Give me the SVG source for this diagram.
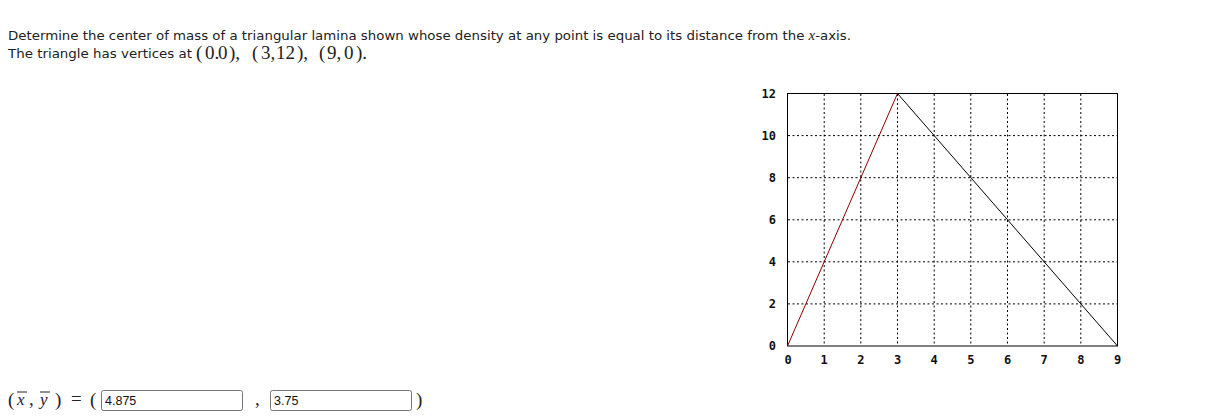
<svg xmlns="http://www.w3.org/2000/svg" width="1207" height="418" viewBox="0 0 1207 418">
<style>
.p{font-family:"DejaVu Sans",Verdana,sans-serif;font-size:12.5px;fill:#222}
.m{font-family:"Liberation Serif","DejaVu Serif",serif;font-size:19px;fill:#222}
.mi{font-family:"Liberation Serif","DejaVu Serif",serif;font-size:17px;font-style:italic;fill:#222}
.ax{font-family:"DejaVu Sans Mono",monospace;font-size:12px;font-weight:bold;fill:#111}
.g{stroke:#000;stroke-width:1;stroke-dasharray:2,2.5;fill:none}
.box{fill:#fff;stroke:#767676;stroke-width:1}
.in{font-family:"Liberation Sans",Arial,sans-serif;font-size:12.5px;fill:#111}
</style>
<rect width="1207" height="418" fill="#fff"/>
<g id="question">
<text class="p" x="8" y="40" textLength="843" lengthAdjust="spacingAndGlyphs">Determine the center of mass of a triangular lamina shown whose density at any point is equal to its distance from the <tspan font-family="Liberation Serif,serif" font-style="italic" font-size="14">x</tspan>-axis.</text>
<text class="p" x="8" y="58" textLength="184" lengthAdjust="spacingAndGlyphs">The triangle has vertices at</text>
<text class="m" y="59"><tspan x="196">(</tspan><tspan x="205">0.</tspan><tspan x="218">0</tspan><tspan x="229">),</tspan><tspan x="252">(</tspan><tspan x="261">3,</tspan><tspan x="276">12</tspan><tspan x="297">),</tspan><tspan x="319">(</tspan><tspan x="327">9,</tspan><tspan x="344">0</tspan><tspan x="356">).</tspan></text>
</g>
<g id="plot">
<g class="grid">
<path class="g" d="M824.2 94V346M860.8 94V346M897.5 94V346M934.2 94V346M970.8 94V346M1007.5 94V346M1044.2 94V346M1080.8 94V346"/>
<path class="g" d="M788 303.9H1117M788 261.8H1117M788 219.8H1117M788 177.7H1117M788 135.6H1117"/>
</g>
<rect x="787.5" y="93.5" width="330" height="252.5" fill="none" stroke="#000" stroke-width="1"/>
<g class="ax" text-anchor="end">
<text x="776" y="97.5">12</text>
<text x="776" y="139.6">10</text>
<text x="776" y="181.7">8</text>
<text x="776" y="223.8">6</text>
<text x="776" y="265.8">4</text>
<text x="776" y="307.9">2</text>
<text x="776" y="350">0</text>
</g>
<g class="ax" text-anchor="middle">
<text x="788" y="364">0</text>
<text x="824.2" y="364">1</text>
<text x="860.8" y="364">2</text>
<text x="897.5" y="364">3</text>
<text x="934.2" y="364">4</text>
<text x="970.8" y="364">5</text>
<text x="1007.5" y="364">6</text>
<text x="1044.2" y="364">7</text>
<text x="1080.8" y="364">8</text>
<text x="1117.5" y="364">9</text>
</g>
</g>
<g id="connectors">
<line x1="787.5" y1="346" x2="897.5" y2="93.5" stroke="#8b0000" stroke-width="1"/>
<line x1="897.5" y1="93.5" x2="1117.5" y2="346" stroke="#000" stroke-width="1"/>
</g>
<g id="answer">
<text class="m" x="8" y="406">(</text>
<text class="mi" x="17" y="405">x</text>
<line x1="17" y1="392" x2="27" y2="392" stroke="#222" stroke-width="1"/>
<text class="m" x="29" y="405">,</text>
<text class="mi" x="40" y="405">y</text>
<line x1="40" y1="392" x2="50" y2="392" stroke="#222" stroke-width="1"/>
<text class="m" x="55" y="406">)</text>
<text class="m" x="71" y="405">=</text>
<text class="m" x="90" y="406">(</text>
<rect class="box" x="101.5" y="390.5" width="141" height="20" rx="2"/>
<text class="in" x="105" y="405">4.875</text>
<text class="m" x="255" y="405">,</text>
<rect class="box" x="270.5" y="390.5" width="141" height="20" rx="2"/>
<text class="in" x="274" y="405">3.75</text>
<text class="m" x="416" y="406">)</text>
</g>
</svg>
